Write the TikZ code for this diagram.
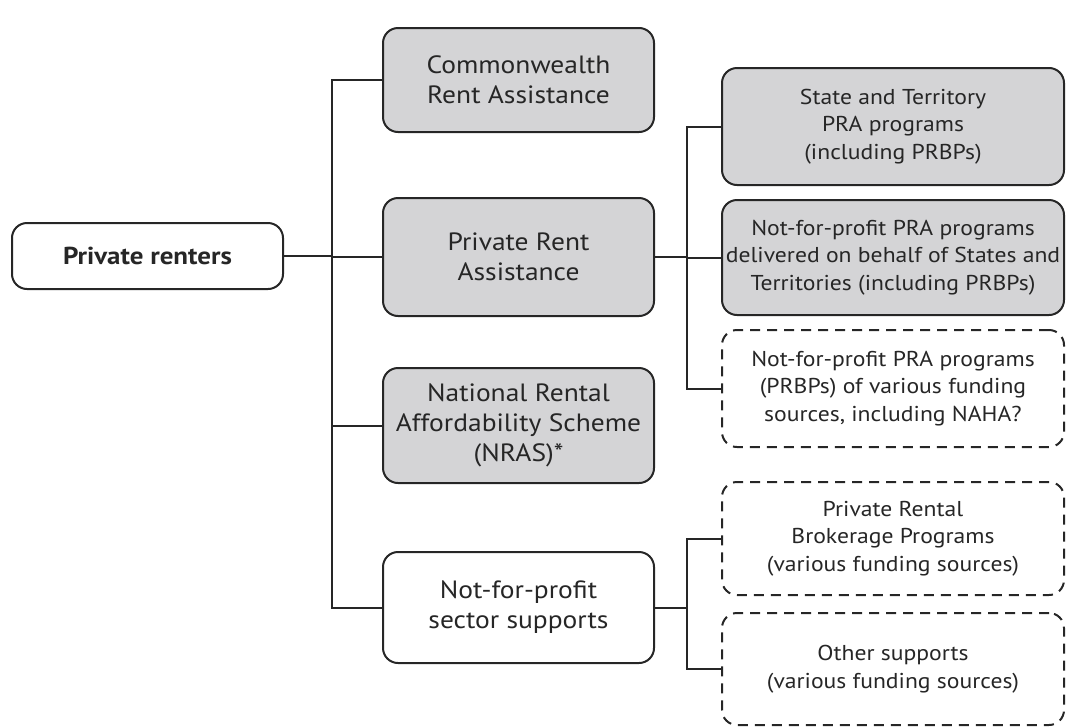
\documentclass[tikz,border=0pt]{standalone}
\usepackage{fontspec}
\setmainfont{PT Sans}[FakeStretch=1.1]
\begin{document}
\begin{tikzpicture}[x=1pt,y=-1pt,
  box/.style={draw=black!85, line width=2pt, rounded corners=15pt, align=center,
    font=\fontsize{25}{30}\selectfont, text=black!85, inner sep=0pt},
  rbox/.style={box, font=\fontsize{21.5}{27.5}\selectfont},
  gbox/.style={box, fill=boxgray},
  rgbox/.style={rbox, fill=boxgray},
  dbox/.style={rbox, dash pattern=on 10pt off 7pt},
  conn/.style={draw=black!85, line width=2pt}]
\definecolor{boxgray}{RGB}{212,212,214}
\useasboundingbox (0,0) rectangle (1067,726);
% root
\node[box, minimum width=271pt, minimum height=66pt, font=\fontsize{24.5}{28}\selectfont\bfseries] (pr) at (147.5,256) {Private renters};
% middle column
\node[gbox, minimum width=271pt, minimum height=104pt] (cra) at (518.5,80) {Commonwealth\\Rent Assistance};
\node[gbox, minimum width=271pt, minimum height=118pt] (pra) at (518.5,257) {Private Rent\\Assistance};
\node[gbox, minimum width=271pt, minimum height=115pt] (nras) at (518.5,425.5) {National Rental\\Affordability Scheme\\(NRAS)*};
\node[box, minimum width=271pt, minimum height=111pt] (nfp) at (518.5,607.5) {Not-for-profit\\sector supports};
% right column
\node[rgbox, minimum width=342pt, minimum height=117pt] (st) at (893,126.5) {State and Territory\\PRA programs\\(including PRBPs)};
\node[rgbox, minimum width=342pt, minimum height=115pt] (del) at (893,257.5) {Not-for-profit PRA programs\\delivered on behalf of States and\\Territories (including PRBPs)};
\node[dbox, minimum width=342pt, minimum height=117pt] (naha) at (893,388.5) {Not-for-profit PRA programs\\(PRBPs) of various funding\\sources, including NAHA?};
\node[dbox, minimum width=342pt, minimum height=113pt] (brok) at (893,538.5) {Private Rental\\Brokerage Programs\\(various funding sources)};
\node[dbox, minimum width=342pt, minimum height=112pt] (oth) at (893,669) {Other supports\\(various funding sources)};
% connector helper coordinates
\coordinate (tx) at (332,0);
\coordinate (bx) at (687,0);
% trunk
\draw[conn] (pr.east) -- (tx |- pr.east);
\draw[conn] (cra.west) -| (tx |- nfp.west) -- (nfp.west);
\draw[conn] (tx |- pra.west) -- (pra.west);
\draw[conn] (tx |- nras.west) -- (nras.west);
% PRA branch
\draw[conn] (pra.east) -- (bx |- pra.east);
\draw[conn] (st.west) -| (bx |- naha.west) -- (naha.west);
\draw[conn] (bx |- del.west) -- (del.west);
% sector branch
\draw[conn] (nfp.east) -- (bx |- nfp.east);
\draw[conn] (brok.west) -| (bx |- oth.west) -- (oth.west);
\end{tikzpicture}
\end{document}
